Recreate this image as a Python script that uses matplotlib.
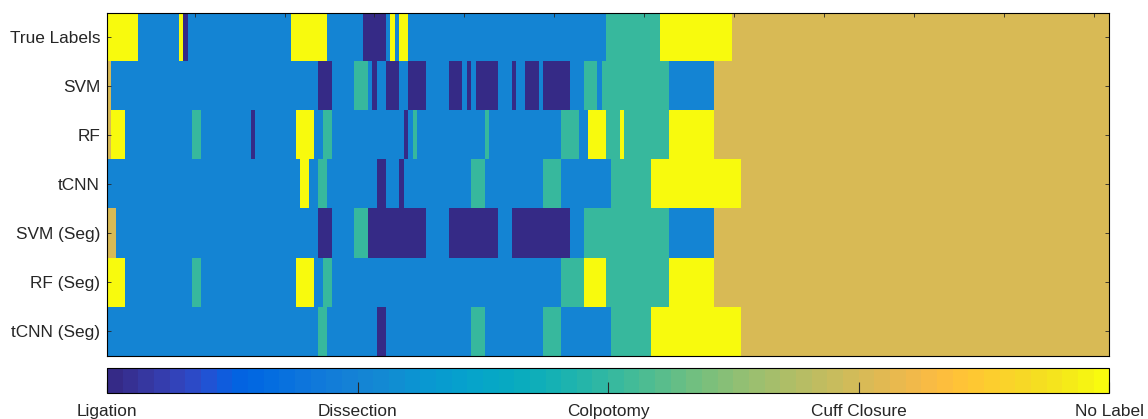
import numpy as np
import matplotlib
matplotlib.use("Agg")
import matplotlib.pyplot as plt
from matplotlib.colors import ListedColormap

# ---- data: label codes 0=Ligation, 1=Dissection, 2=Colpotomy, 3=Cuff Closure, 4=No Label
class_names = ["Ligation", "Dissection", "Colpotomy", "Cuff Closure", "No Label"]
row_names = ["True Labels", "SVM", "RF", "tCNN", "SVM (Seg)", "RF (Seg)", "tCNN (Seg)"]

# run-length encoded sequences: (label, number of frames)
true_labels = [(4, 7), (1, 9), (4, 1), (0, 1), (1, 23), (4, 8), (1, 8), (0, 5), (1, 1),
               (4, 1), (1, 1), (4, 2), (1, 44), (2, 12), (4, 16), (3, 84)]
svm = [(3, 1), (1, 46), (0, 3), (1, 5), (2, 3), (1, 1), (0, 1), (1, 2), (0, 3), (1, 2),
       (0, 4), (1, 5), (0, 3), (1, 1), (0, 1), (1, 1), (0, 5), (1, 3), (0, 1), (1, 2),
       (0, 3), (1, 1), (0, 6), (1, 3), (2, 3), (1, 1), (2, 15), (1, 10), (3, 88)]
rf = [(3, 1), (4, 3), (1, 15), (2, 2), (1, 11), (0, 1), (1, 9), (4, 4), (1, 2), (2, 2),
      (1, 16), (0, 1), (1, 1), (2, 1), (1, 15), (2, 1), (1, 16), (2, 4), (1, 2), (4, 4),
      (2, 3), (4, 1), (2, 10), (4, 10), (3, 88)]
tcnn = [(1, 43), (4, 2), (1, 2), (2, 2), (1, 11), (0, 2), (1, 3), (0, 1), (1, 15), (2, 3),
        (1, 13), (2, 4), (1, 11), (2, 9), (4, 20), (3, 82)]
svm_seg = [(3, 2), (1, 45), (0, 3), (1, 5), (2, 3), (0, 13), (1, 5), (0, 11), (1, 3),
           (0, 13), (1, 3), (2, 19), (1, 10), (3, 88)]
rf_seg = [(4, 4), (1, 15), (2, 2), (1, 21), (4, 4), (1, 2), (2, 2), (1, 51), (2, 5),
          (4, 5), (2, 14), (4, 10), (3, 88)]
tcnn_seg = [(1, 47), (2, 2), (1, 11), (0, 2), (1, 19), (2, 3), (1, 13), (2, 4), (1, 11),
            (2, 9), (4, 20), (3, 82)]

rows = [true_labels, svm, rf, tcnn, svm_seg, rf_seg, tcnn_seg]


def expand(runs):
    labels = [r[0] for r in runs]
    counts = [r[1] for r in runs]
    return np.repeat(labels, counts)


data = np.vstack([expand(r) for r in rows]).astype(float)
n_rows, n_cols = data.shape

# ---- MATLAB parula (64)
parula_data = [
    [0.2081, 0.1663, 0.5292], [0.2116, 0.1898, 0.5777], [0.2123, 0.2138, 0.6270],
    [0.2081, 0.2386, 0.6771], [0.1959, 0.2645, 0.7279], [0.1707, 0.2919, 0.7792],
    [0.1253, 0.3242, 0.8303], [0.0591, 0.3598, 0.8683], [0.0117, 0.3875, 0.8820],
    [0.0060, 0.4086, 0.8828], [0.0165, 0.4266, 0.8786], [0.0329, 0.4430, 0.8720],
    [0.0498, 0.4586, 0.8641], [0.0629, 0.4737, 0.8554], [0.0723, 0.4887, 0.8467],
    [0.0779, 0.5040, 0.8384], [0.0793, 0.5200, 0.8312], [0.0749, 0.5375, 0.8263],
    [0.0641, 0.5570, 0.8240], [0.0488, 0.5772, 0.8228], [0.0343, 0.5966, 0.8199],
    [0.0265, 0.6137, 0.8135], [0.0239, 0.6287, 0.8038], [0.0231, 0.6418, 0.7913],
    [0.0228, 0.6535, 0.7768], [0.0267, 0.6642, 0.7607], [0.0384, 0.6743, 0.7436],
    [0.0590, 0.6838, 0.7254], [0.0843, 0.6928, 0.7062], [0.1133, 0.7015, 0.6859],
    [0.1453, 0.7098, 0.6646], [0.1801, 0.7177, 0.6424], [0.2178, 0.7250, 0.6193],
    [0.2586, 0.7317, 0.5954], [0.3022, 0.7376, 0.5712], [0.3482, 0.7424, 0.5473],
    [0.3953, 0.7459, 0.5244], [0.4420, 0.7481, 0.5033], [0.4871, 0.7491, 0.4840],
    [0.5300, 0.7491, 0.4661], [0.5709, 0.7485, 0.4494], [0.6099, 0.7473, 0.4337],
    [0.6473, 0.7456, 0.4188], [0.6834, 0.7435, 0.4044], [0.7184, 0.7411, 0.3905],
    [0.7525, 0.7384, 0.3768], [0.7858, 0.7356, 0.3633], [0.8185, 0.7327, 0.3498],
    [0.8507, 0.7299, 0.3360], [0.8824, 0.7274, 0.3217], [0.9139, 0.7258, 0.3063],
    [0.9450, 0.7261, 0.2886], [0.9739, 0.7314, 0.2666], [0.9938, 0.7455, 0.2403],
    [0.9990, 0.7653, 0.2164], [0.9955, 0.7861, 0.1967], [0.9880, 0.8066, 0.1794],
    [0.9789, 0.8271, 0.1633], [0.9697, 0.8481, 0.1475], [0.9626, 0.8705, 0.1309],
    [0.9589, 0.8949, 0.1132], [0.9598, 0.9218, 0.0948], [0.9661, 0.9514, 0.0755],
    [0.9763, 0.9831, 0.0538]]
parula = ListedColormap(parula_data, name="parula")

plt.rcParams["font.family"] = ["Liberation Sans", "DejaVu Sans"]
txt = (0.15, 0.15, 0.15)
fs = 12.4

fig = plt.figure(figsize=(11.48, 4.19), dpi=100)
ax = fig.add_axes([107 / 1148, 1 - 356 / 419, (1109.3 - 107) / 1148, (356 - 12.7) / 419])
im = ax.imshow(data, cmap=parula, vmin=0, vmax=4, aspect="auto", interpolation="nearest",
               extent=(0.5, n_cols + 0.5, n_rows + 0.5, 0.5))

ax.set_yticks(np.arange(1, n_rows + 1))
ax.set_yticklabels(row_names, fontsize=fs, color=txt)
ax.set_xticks(np.arange(20, n_cols + 1, 20))
ax.tick_params(axis="x", which="both", direction="in", top=True, bottom=False,
               labeltop=False, labelbottom=False, length=3, width=0.6, color=txt)
ax.tick_params(axis="y", direction="in", left=True, right=True, length=3, width=0.6,
               color=txt, pad=5)
for s in ax.spines.values():
    s.set_linewidth(0.8)
    s.set_color("black")

cax = fig.add_axes([107 / 1148, 1 - 392.7 / 419, (1109.3 - 107) / 1148, (392.7 - 368) / 419])
cb = fig.colorbar(im, cax=cax, orientation="horizontal", ticks=[0, 1, 2, 3, 4])
cb.ax.set_xticklabels(class_names, fontsize=fs, color=txt)
cb.ax.tick_params(direction="in", length=8, width=0.8, color=txt, pad=8)
cb.outline.set_linewidth(0.8)
cb.outline.set_edgecolor("black")

fig.savefig("out.png", dpi=100)
